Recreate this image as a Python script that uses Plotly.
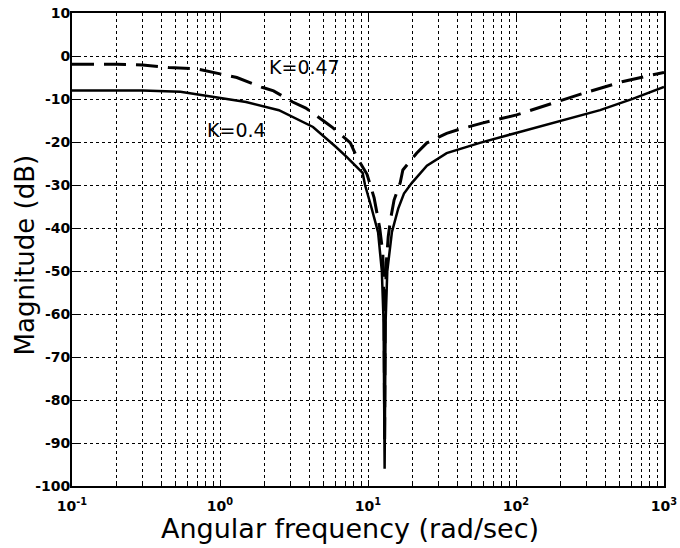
import plotly.graph_objects as go

# Data (frequency in rad/sec, magnitude in dB)
w_k04 = [0.1, 0.3, 0.54, 0.9, 1.5, 2.5, 4.25, 6.0, 7.2, 9.2, 9.55, 10.5, 11.7, 12.4,
         12.75, 12.95, 13.15, 13.5, 14.5, 16.0, 17.5, 19.8, 25.0, 34.0, 57.0, 100.0,
         190.0, 370.0, 620.0, 1000.0]
mag_k04 = [-8.0, -8.0, -8.3, -9.5, -10.7, -12.6, -16.5, -21.0, -23.5, -27.2, -30.0, -35.0,
           -41.0, -50.0, -62.0, -96.0, -62.0, -50.0, -41.0, -35.5, -32.0, -29.5, -25.5,
           -22.6, -20.2, -17.9, -15.3, -12.6, -9.9, -7.2]

w_k047 = [0.1, 0.2, 0.3, 0.45, 0.7, 1.05, 1.3, 1.9, 2.3, 3.1, 3.8, 5.1, 5.8, 7.6, 8.4,
          9.85, 11.0, 12.0, 12.6, 12.85, 12.95, 13.05, 13.3, 13.7, 14.2, 15.0, 16.5,
          17.2, 21.3, 25.0, 34.0, 40.0, 59.0, 101.0, 174.0, 302.0, 520.0, 912.0, 1000.0]
mag_k047 = [-1.9, -1.9, -2.1, -2.7, -3.0, -4.2, -5.0, -7.2, -8.1, -10.7, -12.1, -15.3,
            -16.7, -20.2, -23.5, -27.5, -33.0, -40.0, -46.0, -60.0, -90.0, -60.0, -48.0,
            -42.0, -38.0, -33.5, -29.5, -26.5, -22.6, -20.2, -18.0, -17.2, -15.6, -13.7,
            -11.0, -8.4, -6.0, -4.0, -3.8]

y_ticks = [10, 0, -10, -20, -30, -40, -50, -60, -70, -80, -90, -100]
x_major = [0.1, 1, 10, 100, 1000]
x_major_text = ["<b>10<sup>-1</sup></b>", "<b>10<sup>0</sup></b>", "<b>10<sup>1</sup></b>",
                "<b>10<sup>2</sup></b>", "<b>10<sup>3</sup></b>"]
x_minor = [m * d for d in [0.1, 1, 10, 100] for m in range(2, 10)]

x_title = "Angular frequency (rad/sec)"
y_title = "Magnitude (dB)"

TICKFONT = dict(family="DejaVu Sans", size=14, color="black", weight="bold")
TITLEFONT = dict(family="DejaVu Sans", size=27, color="black")

fig = go.Figure()
fig.add_trace(go.Scatter(x=w_k047, y=mag_k047, mode="lines",
                         line=dict(color="black", width=3, dash="22px,10px"),
                         showlegend=False))
fig.add_trace(go.Scatter(x=w_k04, y=mag_k04, mode="lines",
                         line=dict(color="black", width=2.5),
                         showlegend=False))

fig.add_annotation(x=0.318, y=-2.6, xref="x", yref="y", text="K=0.47",
                   showarrow=False, xanchor="left",
                   font=dict(family="DejaVu Sans", size=19, color="black"))
fig.add_annotation(x=-0.10, y=-17.3, xref="x", yref="y", text="K=0.4",
                   showarrow=False, xanchor="left",
                   font=dict(family="DejaVu Sans", size=19, color="black"))

# axis titles
fig.add_annotation(x=0.4696, y=-0.089, xref="paper", yref="paper", text=x_title,
                   showarrow=False, xanchor="center", yanchor="middle", font=TITLEFONT)
fig.add_annotation(x=-0.079, y=0.488, xref="paper", yref="paper", text=y_title,
                   showarrow=False, xanchor="center", yanchor="middle", textangle=-90,
                   font=dict(family="DejaVu Sans", size=26, color="black"))

fig.update_xaxes(type="log", range=[-1, 3], tickvals=x_major, ticktext=x_major_text,
                 showgrid=True, gridcolor="black", griddash="dot", gridwidth=1,
                 minor=dict(tickvals=x_minor, showgrid=True, gridcolor="black",
                            griddash="dot", gridwidth=1, ticks="inside", ticklen=3,
                            tickcolor="black"),
                 showline=True, linecolor="black", linewidth=2, mirror="ticks",
                 ticks="inside", ticklen=6, tickcolor="black",
                 tickfont=TICKFONT, ticklabelstandoff=6, zeroline=False,
                 automargin=False)
fig.update_yaxes(range=[-100, 10], tickvals=y_ticks,
                 ticktext=[f"<b>{v}</b>" for v in y_ticks],
                 showgrid=True, gridcolor="black", griddash="dot", gridwidth=1,
                 showline=True, linecolor="black", linewidth=2, mirror="ticks",
                 ticks="inside", ticklen=6, tickcolor="black",
                 tickfont=TICKFONT, ticklabelstandoff=-3,
                 zeroline=False, automargin=False)

fig.update_layout(width=680, height=548, margin=dict(l=72, r=16, t=13, b=62),
                  paper_bgcolor="white", plot_bgcolor="white")

fig.write_html("out.html")
